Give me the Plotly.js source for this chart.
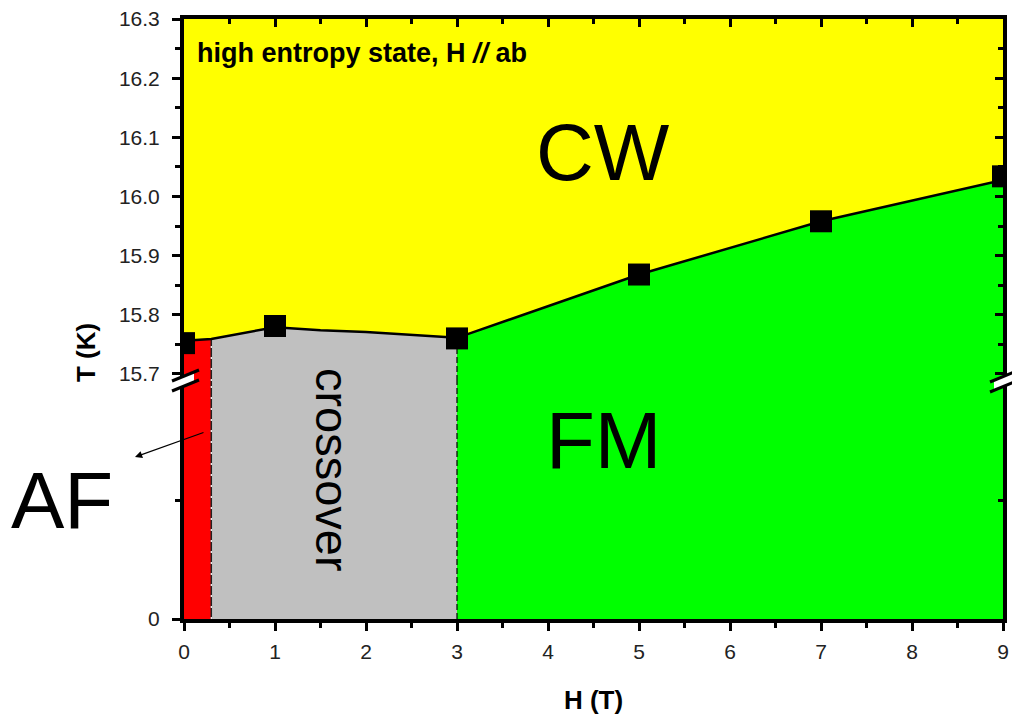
<!DOCTYPE html>
<html>
<head>
<meta charset="utf-8">
<script src="https://cdn.plot.ly/plotly-3.0.1.min.js"></script>
<style>html,body{margin:0;padding:0;background:#fff;}#chart{width:1012px;height:722px;}</style>
</head>
<body>
<div id="chart"></div>
<script>
// ---- data ----
// measured transition points (H in T, T in K)
var pointH = [0, 1, 3, 5, 7, 9];
var pointT = [15.752, 15.781, 15.760, 15.868, 15.958, 16.034];
// phase boundary line (CW above, ordered phases below)
var boundaryH = [0, 0.3, 1, 1.5, 2, 2.5, 3, 5, 7, 9];
var boundaryT = [15.756, 15.759, 15.779, 15.774, 15.771, 15.766, 15.761, 15.868, 15.958, 16.028];
// field limits of the low-temperature phases
var afMaxH = 0.3;        // AF : 0 .. 0.3 T
var crossoverMaxH = 3;   // crossover : 0.3 .. 3 T
var fmMaxH = 9;          // FM : 3 .. 9 T
// axis ranges / ticks (broken T axis)
var upperRange = [15.688, 16.3];
var lowerRange = [0, 16];
var upperTicks = [15.7, 15.8, 15.9, 16.0, 16.1, 16.2, 16.3];
var upperTickText = ['15.7', '15.8', '15.9', '16.0', '16.1', '16.2', '16.3'];
var xTicks = [0, 1, 2, 3, 4, 5, 6, 7, 8, 9];

var RED = '#ff0000', GRAY = '#c0c0c0', GREEN = '#00ff00', YELLOW = '#ffff00';

function seg(h0, h1) {
  var xs = [], ys = [];
  for (var i = 0; i < boundaryH.length; i++) {
    if (boundaryH[i] >= h0 - 1e-9 && boundaryH[i] <= h1 + 1e-9) { xs.push(boundaryH[i]); ys.push(boundaryT[i]); }
  }
  return {x: xs, y: ys};
}
function tAt(h) { return boundaryT[boundaryH.indexOf(h)]; }

var traces = [];
// upper panel: regions under the boundary; lower panel: full height
[[0, afMaxH, RED], [afMaxH, crossoverMaxH, GRAY], [crossoverMaxH, fmMaxH, GREEN]].forEach(function (r) {
  var s = seg(r[0], r[1]);
  traces.push({x: s.x, y: s.y, xaxis: 'x', yaxis: 'y', mode: 'none', fill: 'tozeroy',
    fillcolor: r[2], hoverinfo: 'skip', showlegend: false});
  traces.push({x: [r[0], r[1]], y: [lowerRange[1], lowerRange[1]], xaxis: 'x', yaxis: 'y2', mode: 'none',
    fill: 'tozeroy', fillcolor: r[2], hoverinfo: 'skip', showlegend: false});
});
// dashed phase separators
[['y', upperRange[0]], ['y2', lowerRange[0]]].forEach(function (p) {
  var topA = p[0] === 'y' ? tAt(afMaxH) : lowerRange[1];
  var topC = p[0] === 'y' ? tAt(crossoverMaxH) : lowerRange[1];
  traces.push({x: [afMaxH, afMaxH], y: [p[1], topA], xaxis: 'x', yaxis: p[0], mode: 'lines',
    line: {color: '#222', width: 1.5}, hoverinfo: 'skip', showlegend: false});
  traces.push({x: [afMaxH, afMaxH], y: [p[1], topA], xaxis: 'x', yaxis: p[0], mode: 'lines',
    line: {color: '#ffffff', width: 1.2, dash: '2px,9px'}, hoverinfo: 'skip', showlegend: false});
  traces.push({x: [crossoverMaxH, crossoverMaxH], y: [p[1], topC], xaxis: 'x', yaxis: p[0], mode: 'lines',
    line: {color: '#000', width: 1.2, dash: '6px,3px'}, hoverinfo: 'skip', showlegend: false});
});
// boundary line
traces.push({x: boundaryH, y: boundaryT, xaxis: 'x', yaxis: 'y', mode: 'lines',
  line: {color: '#000', width: 2.5}, hoverinfo: 'skip', showlegend: false});
// measured points
traces.push({x: pointH, y: pointT, xaxis: 'x', yaxis: 'y', mode: 'markers',
  marker: {symbol: 'square', size: 22, color: '#000', line: {width: 0}}, showlegend: false});
// invisible traces so the mirror axes exist
traces.push({x: [0], y: [16], xaxis: 'x2', yaxis: 'y3', mode: 'markers', marker: {opacity: 0}, hoverinfo: 'skip', showlegend: false});
traces.push({x: [0], y: [8], xaxis: 'x', yaxis: 'y4', mode: 'markers', marker: {opacity: 0}, hoverinfo: 'skip', showlegend: false});

// pixel -> paper helpers for decorations
var L = 184, R = 9, T = 19, B = 103, W = 1012, H = 722;
var PW = W - L - R, PH = H - T - B;
function px(x) { return (x - L) / PW; }
function py(y) { return (H - B - y) / PH; }
var split = py(381);

var FF = 'Liberation Sans, Arial, sans-serif';
var tickFont = {family: FF, size: 21, color: '#222'};
var axCommon = {showline: true, linecolor: '#000', linewidth: 4, showgrid: false, zeroline: false,
  tickcolor: '#000', tickwidth: 3, ticklen: 8, tickfont: tickFont, fixedrange: true};

function brk(x0, x1, yA, yB, h) {
  var s = [];
  var gx0 = x0 + 4, gx1 = x1 - 5;
  var slope = (yB - yA) / (x1 - x0);
  function yy(x, base) { return base + slope * (x - x0); }
  s.push({type: 'path', xref: 'paper', yref: 'paper', layer: 'above', line: {width: 0}, fillcolor: '#fff',
    path: 'M' + px(gx0) + ',' + py(yy(gx0, yA)) + ' L' + px(gx1) + ',' + py(yy(gx1, yA)) +
      ' L' + px(gx1) + ',' + py(yy(gx1, yA + h)) + ' L' + px(gx0) + ',' + py(yy(gx0, yA + h)) + ' Z'});
  s.push({type: 'line', xref: 'paper', yref: 'paper', layer: 'above', line: {color: '#000', width: 3},
    x0: px(x0), y0: py(yA), x1: px(x1), y1: py(yB)});
  s.push({type: 'line', xref: 'paper', yref: 'paper', layer: 'above', line: {color: '#000', width: 3},
    x0: px(x0), y0: py(yA + h), x1: px(x1), y1: py(yB + h)});
  return s;
}
var shapes = [].concat(brk(172, 199, 381, 370, 10), brk(990, 1014, 382, 372, 10));

var layout = {
  width: W, height: H,
  margin: {l: L, r: R, t: T, b: B, pad: 0},
  paper_bgcolor: '#ffffff', plot_bgcolor: YELLOW,
  showlegend: false,
  font: {family: FF, color: '#000'},
  xaxis: Object.assign({}, axCommon, {range: [0, 9], anchor: 'y2', domain: [0, 1], side: 'bottom',
    ticks: 'outside', tickmode: 'array', tickvals: xTicks, ticklabelstandoff: 3,
    minor: {ticks: 'outside', dtick: 0.5, tick0: 0, ticklen: 5, tickwidth: 3, tickcolor: '#000', showgrid: false},
    title: {text: '<b>H (T)</b>', font: {size: 26, family: FF, color: '#000'}, standoff: 30}}),
  xaxis2: Object.assign({}, axCommon, {range: [0, 9], overlaying: 'x', anchor: 'y', side: 'top',
    ticks: 'inside', tickmode: 'array', tickvals: xTicks, showticklabels: false,
    minor: {ticks: 'inside', dtick: 0.5, tick0: 0, ticklen: 5, tickwidth: 3, tickcolor: '#000', showgrid: false}}),
  yaxis: Object.assign({}, axCommon, {range: upperRange, domain: [split, 1], anchor: 'x', side: 'left',
    ticks: 'outside', tickmode: 'array', tickvals: upperTicks, ticktext: upperTickText, ticklabelstandoff: 8,
    minor: {ticks: 'outside', dtick: 0.05, tick0: 15.7, ticklen: 5, tickwidth: 3, tickcolor: '#000', showgrid: false}}),
  yaxis2: Object.assign({}, axCommon, {range: lowerRange, domain: [0, split], anchor: 'x', side: 'left',
    ticks: 'outside', tickmode: 'array', tickvals: [0], ticktext: ['0'], ticklabelstandoff: 8,
    minor: {ticks: 'outside', tickmode: 'array', tickvals: [8], ticklen: 5, tickwidth: 3, tickcolor: '#000', showgrid: false}}),
  yaxis3: Object.assign({}, axCommon, {range: upperRange, overlaying: 'y', anchor: 'x', side: 'right',
    ticks: 'inside', tickmode: 'array', tickvals: upperTicks, showticklabels: false,
    minor: {ticks: 'inside', dtick: 0.05, tick0: 15.7, ticklen: 5, tickwidth: 3, tickcolor: '#000', showgrid: false}}),
  yaxis4: Object.assign({}, axCommon, {range: lowerRange, overlaying: 'y2', anchor: 'x', side: 'right',
    ticks: 'inside', tickmode: 'array', tickvals: [0], showticklabels: false,
    minor: {ticks: 'inside', tickmode: 'array', tickvals: [8], ticklen: 5, tickwidth: 3, tickcolor: '#000', showgrid: false}}),
  shapes: shapes,
  annotations: [
    {text: '<b>high entropy state, H <i>//</i> ab</b>', xref: 'paper', yref: 'paper', x: px(195), y: py(53),
      xanchor: 'left', yanchor: 'middle', showarrow: false,
      font: {size: 27, family: FF, color: '#000'}},
    {text: 'CW', xref: 'x', yref: 'y', x: 4.6, y: 16.075, showarrow: false, xanchor: 'center', yanchor: 'middle',
      font: {size: 80, family: FF, color: '#000'}},
    {text: 'FM', xref: 'x', yref: 'y2', x: 4.62, y: 12.0, showarrow: false, xanchor: 'center', yanchor: 'middle',
      font: {size: 80, family: FF, color: '#000'}},
    {text: 'crossover', xref: 'x', yref: 'y2', x: 1.63, y: 10.0, showarrow: false, textangle: 90,
      xanchor: 'center', yanchor: 'middle',
      font: {size: 47, family: FF, color: '#000'}},
    {text: 'AF', xref: 'paper', yref: 'paper', x: px(62), y: py(500), showarrow: false,
      xanchor: 'center', yanchor: 'middle',
      font: {size: 80, family: FF, color: '#000'}},
    {text: '', xref: 'paper', yref: 'paper', x: px(135), y: py(457), ax: 70, ay: -25, axref: 'pixel', ayref: 'pixel',
      showarrow: true, arrowhead: 2, arrowsize: 1.2, arrowwidth: 1.2, arrowcolor: '#000', standoff: 0, startstandoff: 0},
    {text: '<b>T (K)</b>', xref: 'paper', yref: 'paper', x: px(86), y: py(353), showarrow: false, textangle: -90,
      xanchor: 'center', yanchor: 'middle',
      font: {size: 26, family: FF, color: '#000'}}
  ]
};

Plotly.newPlot('chart', traces, layout, {staticPlot: true, displayModeBar: false});
</script>
</body>
</html>
